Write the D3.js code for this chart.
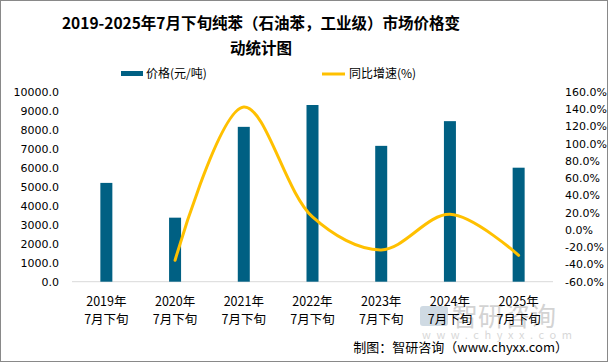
<!DOCTYPE html>
<html>
<head>
<meta charset="utf-8">
<script src="https://cdn.jsdelivr.net/npm/d3@7"></script>
<style>
  body { margin: 0; background: #fff; }
  svg { display: block; font-family: "Noto Sans CJK SC", "Microsoft YaHei", sans-serif; }
</style>
</head>
<body>
<script>
var years = ["2019年", "2020年", "2021年", "2022年", "2023年", "2024年", "2025年"];
var period = "7月下旬";
var prices = [5200, 3370, 8150, 9300, 7150, 8450, 6000];
var growth = [null, -35.2, 142.3, 15.0, -23.2, 18.0, -29.5];
var leftTicks = [0, 1000, 2000, 3000, 4000, 5000, 6000, 7000, 8000, 9000, 10000];
var rightTicks = [-60, -40, -20, 0, 20, 40, 60, 80, 100, 120, 140, 160];

var width = 609, height = 363;
var plotLeft = 72, plotRight = 553, plotTop = 91.7, plotBottom = 281.7;

var svg = d3.select("body").append("svg")
    .attr("width", width)
    .attr("height", height);

svg.append("rect")
    .attr("x", 0.5).attr("y", 0.5)
    .attr("width", width - 2).attr("height", height - 2)
    .attr("fill", "#fff").attr("stroke", "#898989");

// title
svg.append("text")
    .attr("x", 261).attr("y", 29)
    .attr("text-anchor", "middle")
    .style("font-size", "15.5px").style("font-weight", "bold")
    .attr("fill", "#000")
    .text("2019-2025年7月下旬纯苯（石油苯，工业级）市场价格变");
svg.append("text")
    .attr("x", 261).attr("y", 54)
    .attr("text-anchor", "middle")
    .style("font-size", "15.5px").style("font-weight", "bold")
    .attr("fill", "#000")
    .text("动统计图");

// watermark (behind the labels)
var wm = svg.append("g").attr("opacity", 0.55);
wm.append("rect").attr("x", 420).attr("y", 306).attr("width", 28).attr("height", 20)
    .attr("rx", 3).attr("fill", "#a9bccd");
wm.append("text").attr("x", 452).attr("y", 326)
    .style("font-size", "26px").attr("fill", "#b0b0b0").text("智研咨询");
wm.append("text").attr("x", 422).attr("y", 339)
    .style("font-size", "11px").style("letter-spacing", "5.6px").attr("fill", "#b8b8b8").text("www.chyxx.com");

// scales
var x = d3.scaleBand().domain(years).range([plotLeft, plotRight]);
var yL = d3.scaleLinear().domain([0, 10000]).range([plotBottom, plotTop]);
var yR = d3.scaleLinear().domain([-60, 160]).range([plotBottom, plotTop]);

// left axis
var axL = svg.append("g")
    .attr("transform", "translate(" + (plotLeft - 13) + ",0)")
    .call(d3.axisLeft(yL).tickValues(leftTicks).tickSize(0).tickFormat(d3.format(".1f")));
axL.select(".domain").remove();
axL.selectAll("text")
    .style("font-size", "11px").style("font-family", "Tahoma, 'DejaVu Sans', sans-serif")
    .attr("fill", "#000").attr("x", 0);

// right axis
var axR = svg.append("g")
    .attr("transform", "translate(" + (plotRight + 12) + ",0)")
    .call(d3.axisRight(yR).tickValues(rightTicks).tickSize(0).tickFormat(function(d) { return d.toFixed(1) + "%"; }));
axR.select(".domain").remove();
axR.selectAll("text")
    .style("font-size", "11px").style("font-family", "Tahoma, 'DejaVu Sans', sans-serif")
    .attr("fill", "#000").attr("x", 0);

// baseline
svg.append("line")
    .attr("x1", plotLeft).attr("x2", plotRight)
    .attr("y1", yL(0)).attr("y2", yL(0))
    .attr("stroke", "#d9d9d9");

// bars
svg.append("g")
    .selectAll("rect")
    .data(prices)
    .enter()
    .append("rect")
    .attr("x", function(d, i) { return x(years[i]) + x.bandwidth() / 2 - 6; })
    .attr("width", 12)
    .attr("y", function(d) { return yL(d); })
    .attr("height", function(d) { return yL(0) - yL(d); })
    .attr("fill", "#006083");

// growth line
var pts = growth.map(function(d, i) { return [i, d]; }).filter(function(p) { return p[1] != null; });
var line = d3.line()
    .x(function(p) { return x(years[p[0]]) + x.bandwidth() / 2; })
    .y(function(p) { return yR(p[1]); })
    .curve(d3.curveCatmullRom.alpha(0.5));
svg.append("path")
    .datum(pts)
    .attr("d", line)
    .attr("fill", "none")
    .attr("stroke", "#ffc000")
    .attr("stroke-width", 3)
    .attr("stroke-linecap", "round");

// x labels
var xl = svg.append("g").attr("text-anchor", "middle")
    .style("font-size", "12.5px").attr("fill", "#000");
years.forEach(function(yr) {
    var cx = x(yr) + x.bandwidth() / 2;
    xl.append("text").attr("x", cx).attr("y", 306).text(yr);
    xl.append("text").attr("x", cx).attr("y", 324).text(period);
});

// legend
svg.append("rect").attr("x", 121).attr("y", 71).attr("width", 22).attr("height", 5).attr("fill", "#006083");
svg.append("text").attr("x", 146).attr("y", 78).style("font-size", "12px").attr("fill", "#000").text("价格(元/吨)");
svg.append("line").attr("x1", 322).attr("x2", 345).attr("y1", 74).attr("y2", 74)
    .attr("stroke", "#ffc000").attr("stroke-width", 3);
svg.append("text").attr("x", 349).attr("y", 78).style("font-size", "12px").attr("fill", "#000").text("同比增速(%)");

// source
svg.append("text")
    .attr("x", 568).attr("y", 352)
    .attr("text-anchor", "end")
    .style("font-size", "13px").attr("fill", "#000")
    .text("制图：智研咨询（www.chyxx.com）");
</script>
</body>
</html>
